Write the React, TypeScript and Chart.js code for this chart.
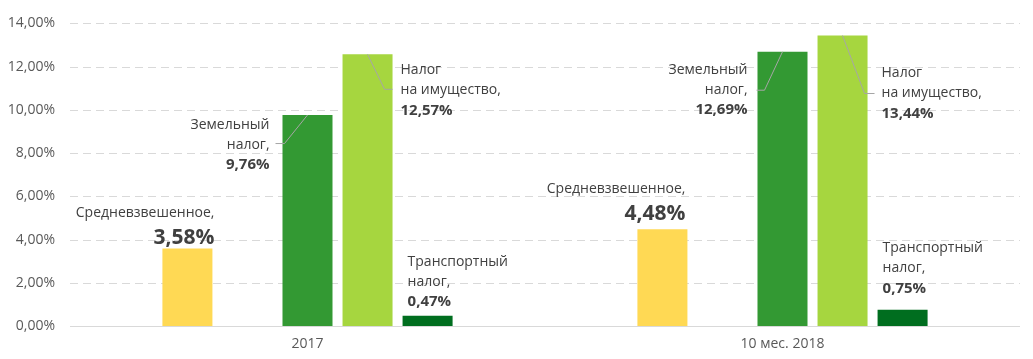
import React, { useEffect, useRef } from "react";
import { Chart, registerables } from "chart.js";

Chart.register(...registerables);

const categories = ["2017", "10 мес. 2018"];
const seriesNames = ["Средневзвешенное", "", "Земельный налог", "Налог на имущество", "Транспортный налог"];
const weightedAvg = [3.58, 4.48];
const spacer = [null, null];
const landTax = [9.76, 12.69];
const propertyTax = [12.57, 13.44];
const transportTax = [0.47, 0.75];
const yTicks = [0, 2, 4, 6, 8, 10, 12, 14];

const colors = ["#FFD954", "rgba(0,0,0,0)", "#339933", "#A6D63F", "#006E1F"];

// label text lines per dataset (first lines; value appended)
const labelLines: Record<number, string[]> = {
  0: ["Средневзвешенное,"],
  2: ["Земельный", "налог,"],
  3: ["Налог", "на имущество,"],
  4: ["Транспортный", "налог,"],
};

// label layout relative to bar centre / bar top (pixels)
type Lay = { dx: number; dy: number; align: CanvasTextAlign; leader?: number[][] };
const labelLayout: Record<string, Lay> = {
  "0-0": { dx: 27, dy: -36, align: "right" },
  "0-1": { dx: 23, dy: -40, align: "right" },
  "2-0": { dx: -38, dy: 9.5, align: "right", leader: [[-32, 28.5], [-23, 28.5], [0, 0]] },
  "2-1": { dx: -35, dy: 18.5, align: "right", leader: [[-26, 38.5], [-18, 38.5], [0, 0]] },
  "3-0": { dx: 33, dy: 16, align: "left", leader: [[0, 0], [17, 35], [25, 35]] },
  "3-1": { dx: 39, dy: 38, align: "left", leader: [[0, 0], [22, 58], [32, 58]] },
  "4-0": { dx: -20, dy: -54, align: "left" },
  "4-1": { dx: -20, dy: -61.5, align: "left" },
};

const fmt = (v: number) => v.toFixed(2).replace(".", ",") + "%";
const FONT = "'Open Sans', sans-serif";

const gridPlugin = {
  id: "customGrid",
  beforeDatasetsDraw(chart: any) {
    const { ctx, chartArea, scales } = chart;
    const y = scales.y;
    ctx.save();
    ctx.strokeStyle = "#D9D9D9";
    ctx.lineWidth = 1;
    yTicks.forEach((v) => {
      const py = Math.round(y.getPixelForValue(v)) + 0.5;
      ctx.setLineDash(v === 0 ? [] : [8, 5]);
      ctx.beginPath();
      ctx.moveTo(chartArea.left, py);
      ctx.lineTo(chartArea.right, py);
      ctx.stroke();
    });
    ctx.restore();
  },
};

const labelPlugin = {
  id: "customLabels",
  afterDatasetsDraw(chart: any) {
    const { ctx } = chart;
    ctx.save();
    chart.data.datasets.forEach((ds: any, di: number) => {
      if (!labelLines[di]) return;
      const meta = chart.getDatasetMeta(di);
      meta.data.forEach((bar: any, i: number) => {
        const val = ds.data[i];
        if (val == null) return;
        const lay = labelLayout[`${di}-${i}`];
        if (!lay) return;
        const cx = bar.x;
        const top = bar.y;
        if (lay.leader) {
          ctx.strokeStyle = "#A6A6A6";
          ctx.lineWidth = 1;
          ctx.setLineDash([]);
          ctx.beginPath();
          lay.leader.forEach((p, k) => {
            const px = cx + p[0];
            const py = top + p[1];
            if (k === 0) ctx.moveTo(px, py);
            else ctx.lineTo(px, py);
          });
          ctx.stroke();
        }
        const x = cx + lay.dx;
        let y = top + lay.dy;
        ctx.textAlign = lay.align;
        ctx.textBaseline = "middle";
        ctx.fillStyle = "#404040";
        ctx.font = `14px ${FONT}`;
        labelLines[di].forEach((line) => {
          ctx.fillText(line, x, y);
          y += 20;
        });
        if (di === 0) {
          ctx.font = `bold 21px ${FONT}`;
          ctx.fillText(fmt(val), x, y + 5);
        } else {
          ctx.font = `bold 15px ${FONT}`;
          ctx.fillText(fmt(val), x, y);
        }
      });
    });
    ctx.restore();
  },
};

export default function App() {
  const ref = useRef<HTMLCanvasElement | null>(null);
  useEffect(() => {
    if (!ref.current) return;
    const seriesData = [weightedAvg, spacer, landTax, propertyTax, transportTax];
    const chart = new Chart(ref.current, {
      type: "bar",
      data: {
        labels: categories,
        datasets: seriesData.map((d, k) => ({
          label: seriesNames[k],
          data: d as any,
          backgroundColor: colors[k],
          categoryPercentage: 0.632,
          barPercentage: 0.833,
        })),
      },
      options: {
        animation: false,
        responsive: true,
        maintainAspectRatio: false,
        layout: { padding: { top: 16, right: 13, left: 0, bottom: 0 } },
        plugins: { legend: { display: false }, tooltip: { enabled: false } },
        scales: {
          x: {
            grid: { display: false, drawTicks: false },
            border: { display: false },
            ticks: { color: "#595959", font: { family: FONT, size: 14 }, padding: 10 },
            afterFit: (s: any) => {
              s.height = 33;
            },
          },
          y: {
            min: 0,
            max: 14,
            grid: { display: false, drawTicks: false },
            border: { display: false },
            ticks: {
              stepSize: 2,
              color: "#595959",
              font: { family: FONT, size: 14 },
              padding: 15,
              callback: (v: any) => fmt(Number(v)),
            },
            afterFit: (s: any) => {
              s.width = 70;
            },
          },
        },
      },
      plugins: [gridPlugin, labelPlugin],
    });
    return () => chart.destroy();
  }, []);
  return (
    <div style={{ position: "fixed", left: 0, top: 0, width: 1033, height: 359, background: "#fff" }}>
      <canvas ref={ref} />
    </div>
  );
}
